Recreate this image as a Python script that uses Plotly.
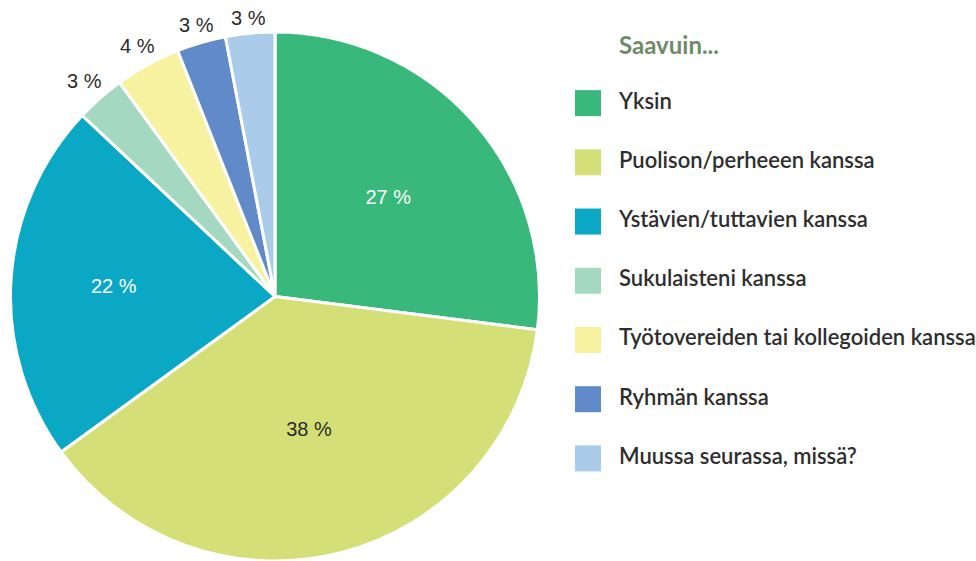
import math
import plotly.graph_objects as go

labels = ["Yksin", "Puolison/perheeen kanssa", "Ystävien/tuttavien kanssa",
          "Sukulaisteni kanssa", "Työtovereiden tai kollegoiden kanssa",
          "Ryhmän kanssa", "Muussa seurassa, missä?"]
values = [27, 38, 22, 3, 4, 3, 3]
colors = ["#38B87A", "#D4E077", "#0BA8C6", "#A4D8C0", "#F6F2A0", "#608BC8", "#ABCBEA"]
text_colors = ["#FFFFFF", "#2B2B2B", "#FFFFFF", "#2B2B2B", "#2B2B2B", "#2B2B2B", "#2B2B2B"]
inside = [True, True, True, False, False, False, False]
legend_title = "Saavuin..."

W, H = 976, 561
PIE_X = [10, 540]      # pixel extent of the pie domain
PIE_TOP = 32           # pixel top of the pie domain (bottom at H)
LABEL_FONT = 20

fig = go.Figure()
fig.add_trace(go.Pie(
    labels=labels, values=values, sort=False, direction="clockwise", rotation=0,
    marker=dict(colors=colors, line=dict(color="white", width=3)),
    texttemplate="%{value} %",
    textposition=["inside" if f else "none" for f in inside],
    insidetextorientation="horizontal",
    textfont=dict(family="Liberation Sans, Arial", size=LABEL_FONT, color=text_colors),
    domain=dict(x=[PIE_X[0] / W, PIE_X[1] / W], y=[0, (H - PIE_TOP) / H]),
    showlegend=False, hoverinfo="label+value",
))

# outside labels for the small slices, placed at each slice's mid angle
cx = (PIE_X[0] + PIE_X[1]) / 2
cy_up = (H - PIE_TOP) / 2            # centre, measured up from bottom in px
r = min(PIE_X[1] - PIE_X[0], H - PIE_TOP) / 2
total = sum(values)
cum = 0
for lab, v, f in zip(labels, values, inside):
    mid = (cum + v / 2) / total * 2 * math.pi
    cum += v
    if f:
        continue
    s, c = math.sin(mid), math.cos(mid)
    d = r + 4 + 18 * abs(s) + 10 * abs(c)
    fig.add_annotation(
        text=f"{v} %", xref="paper", yref="paper",
        x=(cx + d * s) / W, y=(cy_up + d * c) / H,
        xanchor="center", yanchor="middle", showarrow=False,
        font=dict(family="Liberation Sans, Arial", size=LABEL_FONT, color="#2B2B2B"),
    )

# custom legend drawn on a hidden category axis
fig.add_trace(go.Scatter(
    x=[0] * len(labels), y=labels, mode="markers",
    marker=dict(symbol="square", size=26, color=colors, line=dict(width=0)),
    xaxis="x", yaxis="y", showlegend=False, hoverinfo="skip", cliponaxis=False,
))
fig.add_trace(go.Scatter(
    x=[1] * len(labels), y=labels, mode="text", text=labels,
    textposition="middle right",
    textfont=dict(family="Lato", size=22, color="#2E2E2E", weight=600),
    xaxis="x", yaxis="y", showlegend=False, hoverinfo="skip", cliponaxis=False,
))

fig.add_annotation(
    text=legend_title, xref="paper", yref="paper",
    x=617 / W, y=(H - 45) / H, xanchor="left", yanchor="middle", showarrow=False,
    font=dict(family="Lato", size=24, color="#6E8B6A", weight="bold"),
)

fig.update_layout(
    width=W, height=H, margin=dict(l=0, r=0, t=0, b=0),
    paper_bgcolor="white", plot_bgcolor="white",
    xaxis=dict(domain=[588 / W, 619 / W], range=[0, 1], visible=False, fixedrange=True),
    yaxis=dict(domain=[(H - 488) / H, (H - 73.5) / H], type="category",
               categoryorder="array", categoryarray=labels,
               range=[len(labels) - 0.5, -0.5], visible=False, fixedrange=True),
)

fig.write_html("out.html", config={"displayModeBar": False},
               post_script="document.body.style.margin='0';")
